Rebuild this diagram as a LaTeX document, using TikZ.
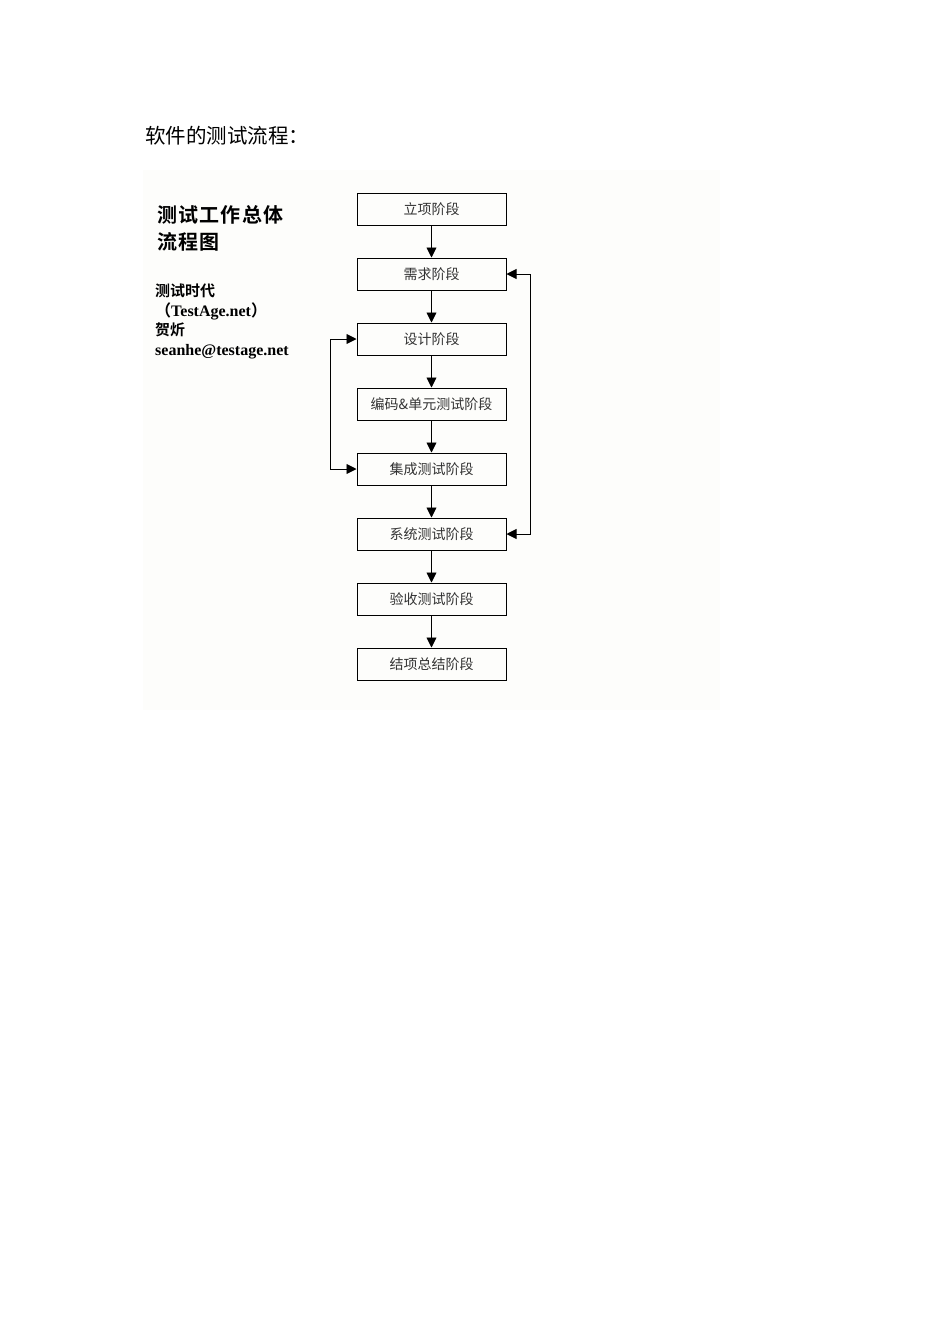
\documentclass[tikz,border=0pt]{standalone}
\usepackage{fontspec}
\setmainfont{Liberation Serif}
\newfontfamily\cjk{Noto Sans CJK SC}[BoldFont={Noto Sans CJK SC Bold}]
\usetikzlibrary{arrows.meta}

\definecolor{panel}{RGB}{253,253,251}
\tikzset{
  stage/.style={draw, line width=1pt, minimum width=149pt, minimum height=32pt,
    inner sep=0pt, text=black!80, font=\cjk\fontsize{14}{14}\selectfont},
  flow/.style={line width=0.9pt, -{Triangle[length=10pt,width=10pt]}},
  loop/.style={line width=0.9pt, {Triangle[length=10pt,width=10pt]}-{Triangle[length=10pt,width=10pt]}}
}

\begin{document}
\begin{tikzpicture}[x=1pt, y=1pt]
    \useasboundingbox (0,0) rectangle (950,-1344);
    \fill[white] (0,0) rectangle (950,-1344);
    \fill[panel] (143,-170) rectangle (720,-710);

    \node[anchor=west, inner sep=0pt, font=\cjk\fontsize{20.5}{20.5}\selectfont] (heading) at (145,-136) {软件的测试流程：};

    \node[anchor=north west, inner sep=0pt, align=left, font=\cjk\bfseries\fontsize{20}{27}\selectfont\addfontfeature{LetterSpace=6}] (title) at (157,-205) {测试工作总体\\流程图};
    \node[anchor=north west, inner sep=0pt, align=left, font=\bfseries\fontsize{16}{19.4}\selectfont] (credit) at (155,-284) {{\cjk\fontsize{15}{19.4}\selectfont 测试时代}\\{\cjk （}TestAge.net{\cjk ）}\\{\cjk\fontsize{15}{19.4}\selectfont 贺炘}\\seanhe@testage.net};

    \node[stage] (start) at (431.5,-209) {立项阶段};
    \node[stage] (req) at (431.5,-274) {需求阶段};
    \node[stage] (design) at (431.5,-339) {设计阶段};
    \node[stage] (coding) at (431.5,-404) {编码\&单元测试阶段};
    \node[stage] (integ) at (431.5,-469) {集成测试阶段};
    \node[stage] (sys) at (431.5,-534) {系统测试阶段};
    \node[stage] (accept) at (431.5,-599) {验收测试阶段};
    \node[stage] (close) at (431.5,-664) {结项总结阶段};

    \draw[flow] (start) -- (req);
    \draw[flow] (req) -- (design);
    \draw[flow] (design) -- (coding);
    \draw[flow] (coding) -- (integ);
    \draw[flow] (integ) -- (sys);
    \draw[flow] (sys) -- (accept);
    \draw[flow] (accept) -- (close);

    \draw[loop] (design.west) -- ++(-26,0) |- (integ.west);
    \draw[loop] (req.east) -- ++(24,0) |- (sys.east);
\end{tikzpicture}
\end{document}
